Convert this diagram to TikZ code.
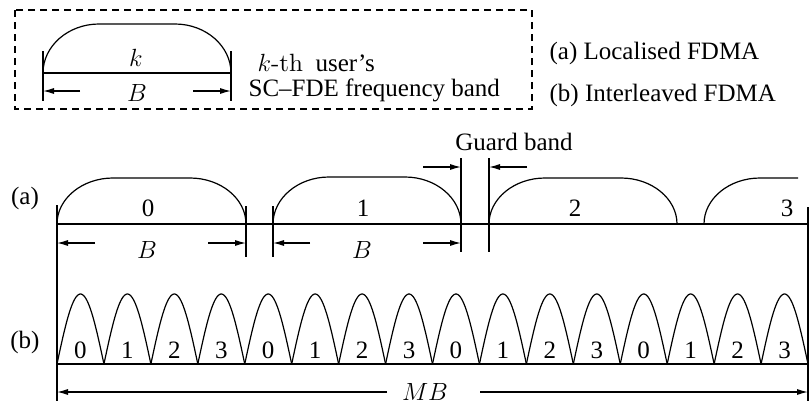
\documentclass[tikz,border=0pt]{standalone}
\usepackage{fontspec}
\setmainfont{Liberation Serif}
\newfontfamily\lmr{lmroman10-regular.otf}
\usetikzlibrary{arrows.meta}
\newcommand\fdband[4]{% x0, base y, height, width
  \draw (#1,#2) .. controls (#1,{#2-0.55*#3}) and ({#1+0.45*56},{#2-#3}) .. ({#1+56},{#2-#3})
    -- ({#1+#4-56},{#2-#3}) .. controls ({#1+#4-0.45*56},{#2-#3}) and ({#1+#4},{#2-0.55*#3}) .. ({#1+#4},#2);}
\begin{document}
\begin{tikzpicture}[x=1pt,y=-1pt, line width=1.2pt,
  every node/.style={font=\fontsize{25}{29}\selectfont, inner sep=0pt},
  arr/.style={-{Latex[length=11pt,width=6pt]}},
  axis/.style={line width=1.5pt},
  boxline/.style={dash pattern=on 7pt off 5pt, line width=1.1pt}]
\useasboundingbox (0,0) rectangle (811,408);
% legend box
\draw[boxline] (15,10) rectangle (532,109);
\fdband{43}{73}{49}{188}
\coordinate (L0) at (43,73); \coordinate (L1) at (231,73);
\draw[axis] (L0) -- (L1);
\draw (43,51) -- (43,101); \draw (231,51) -- (231,101);
\coordinate (lbl) at (43,91); \coordinate (lbr) at (231,91);
\coordinate (lbl2) at (80,91); \coordinate (lbr2) at (193,91);
\draw[arr] (lbl2) -- (lbl); \draw[arr] (lbr2) -- (lbr);
\node (lk) at (136,58) {$k$};
\node (lB) at (137,93) {$B$};
\node[anchor=west] (t1) at (257,63) {$k${\lmr -th}\ \ user’s};
\node[anchor=west] (t2) at (248,90) {SC–FDE frequency band};
\node[anchor=west] (ta) at (549,53) {(a) Localised FDMA};
\node[anchor=west] (tb) at (549,95) {(b) Interleaved FDMA};
% row labels
\node (la) at (25,198) {(a)};
\node (lb) at (25,342) {(b)};
% outer verticals
\coordinate (VL0) at (57,205); \coordinate (VL1) at (57,401);
\coordinate (VR0) at (808,207); \coordinate (VR1) at (808,401);
\draw (VL0) -- (VL1); \draw (VR0) -- (VR1);
% (a) localised
\coordinate (A0) at (57,224); \coordinate (A1) at (808,224);
\draw[axis] (A0) -- (A1);
\fdband{57}{224}{46}{189}
\fdband{273}{224}{47}{188}
\fdband{489}{224}{46}{188}
\draw (704,224) .. controls (704,{224-0.55*46}) and ({704+0.45*56},178) .. (760,178) -- (798,178);
\draw (246,206) -- (246,257); \draw (273,206) -- (273,257);
\draw (461,158) -- (461,252); \draw (489,158) -- (489,252);
\node (n0) at (148,208) {0};
\node (n1) at (363,208) {1};
\node (n2) at (575,208) {2};
\node (n3) at (787,208) {3};
\coordinate (b0l) at (57,243); \coordinate (b0l2) at (95,243);
\coordinate (b0r) at (246,243); \coordinate (b0r2) at (208,243);
\coordinate (b1l) at (273,243); \coordinate (b1l2) at (310,243);
\coordinate (b1r) at (461,243); \coordinate (b1r2) at (423,243);
\draw[arr] (b0l2) -- (b0l); \draw[arr] (b0r2) -- (b0r);
\draw[arr] (b1l2) -- (b1l); \draw[arr] (b1r2) -- (b1r);
\node (B0) at (147,250) {$B$};
\node (B1) at (362,250) {$B$};
% guard band
\coordinate (g1) at (461,167); \coordinate (g1s) at (423,167);
\coordinate (g2) at (489,167); \coordinate (g2s) at (527,167);
\draw[arr] (g1s) -- (g1); \draw[arr] (g2s) -- (g2);
\node (gb) at (514,142) {Guard band};
% (b) interleaved
\coordinate (I0) at (57,364); \coordinate (I1) at (808,364);
\draw[axis] (I0) -- (I1);
\foreach \i in {0,...,15} {
  \pgfmathsetmacro\xa{57+\i*46.9375}
  \pgfmathtruncatemacro\lab{mod(\i,4)}
  \draw plot[domain=0:180, samples=40, smooth] ({\xa+\x/180*46.9375},{364-70*sin(\x)});
  \node (s\i) at ({\xa+23.47},350) {\lab};
}
% MB
\coordinate (m0) at (57,392); \coordinate (m0s) at (387,392);
\coordinate (m1) at (808,392); \coordinate (m1s) at (480,392);
\draw[arr] (m0s) -- (m0); \draw[arr] (m1s) -- (m1);
\node (MB) at (425,392) {$MB$};
\end{tikzpicture}
\end{document}
